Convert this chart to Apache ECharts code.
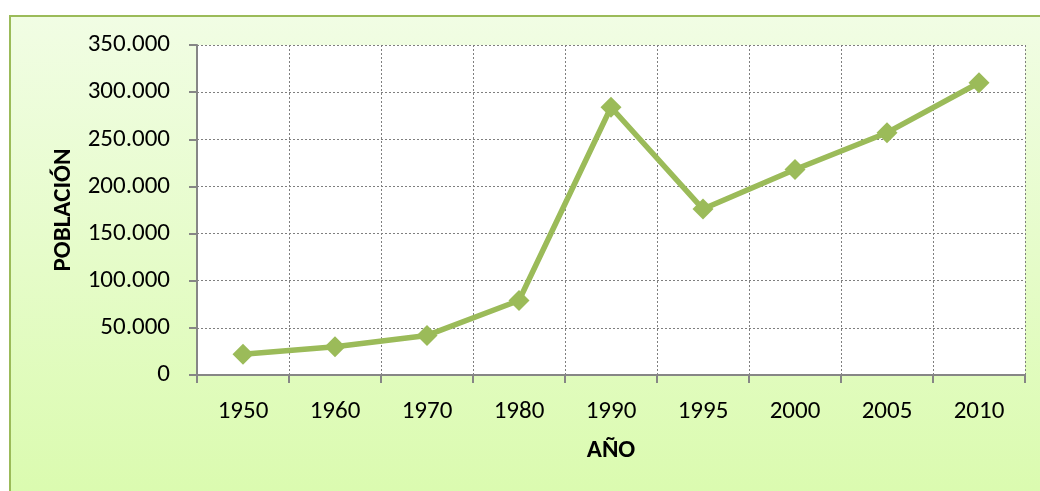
<!DOCTYPE html>
<html>
<head>
<meta charset="utf-8">
<script src="https://cdn.jsdelivr.net/npm/echarts@6/dist/echarts.min.js"></script>
<style>
  html, body { margin: 0; padding: 0; background: #fff; }
  #main { width: 1040px; height: 491px; }
</style>
</head>
<body>
<div id="main"></div>
<script>
// datos
const years = ["1950", "1960", "1970", "1980", "1990", "1995", "2000", "2005", "2010"];
const poblacion = [22000, 30000, 42000, 79000, 284000, 176000, 218000, 257000, 310000];
const yTicks = [0, 50000, 100000, 150000, 200000, 250000, 300000, 350000];

const font = "Carlito, Lato, 'Open Sans', sans-serif";
const green = "#9bbb59";

// formato con punto de miles: 350000 -> 350.000
const fmt = (v) => String(v).replace(/\B(?=(\d{3})+(?!\d))/g, ".");

const myChart = echarts.init(document.getElementById("main"));

const option = {
  animation: false,
  graphic: [
    {
      type: "rect",
      z: -10,
      shape: { x: 10, y: 16, width: 1040, height: 490 },
      style: {
        fill: new echarts.graphic.LinearGradient(0, 0, 0, 1, [
          { offset: 0, color: "#f1fde4" },
          { offset: 1, color: "#dafbae" },
        ]),
        stroke: green,
        lineWidth: 2,
      },
    },
  ],
  grid: {
    left: 197,
    right: 15,
    top: 45,
    bottom: 116,
    show: true,
    backgroundColor: "#ffffff",
    borderWidth: 0,
  },
  xAxis: {
    type: "category",
    data: years,
    boundaryGap: true,
    name: "AÑO",
    nameLocation: "middle",
    nameGap: 63,
    nameTextStyle: { fontFamily: font, fontSize: 25, fontWeight: "bold", color: "#000" },
    axisLine: { lineStyle: { color: "#868686", width: 2 } },
    axisTick: { show: true, length: 8, lineStyle: { color: "#868686", width: 2 } },
    axisLabel: { fontFamily: font, fontSize: 25, color: "#000", margin: 24 },
    splitLine: { show: true, interval: 0, lineStyle: { color: "#7f7f7f", type: [2, 2], width: 1 } },
  },
  yAxis: {
    type: "value",
    min: 0,
    max: 350000,
    interval: 50000,
    name: "POBLACIÓN",
    nameLocation: "middle",
    nameGap: 121,
    nameRotate: 90,
    nameTextStyle: { fontFamily: font, fontSize: 25, fontWeight: "bold", color: "#000" },
    axisLine: { show: true, lineStyle: { color: "#868686", width: 2 } },
    axisTick: { show: true, length: 8, lineStyle: { color: "#868686", width: 2 } },
    axisLabel: {
      fontFamily: font,
      fontSize: 25,
      color: "#000",
      margin: 27,
      formatter: (v) => (yTicks.includes(v) ? fmt(v) : ""),
    },
    splitLine: { show: true, lineStyle: { color: "#7f7f7f", type: [2, 2], width: 1 } },
  },
  series: [
    {
      name: "POBLACIÓN",
      type: "line",
      data: poblacion,
      symbol: "diamond",
      symbolSize: 21,
      itemStyle: { color: green },
      lineStyle: { color: green, width: 5.5 },
    },
  ],
};

myChart.setOption(option);
</script>
</body>
</html>
